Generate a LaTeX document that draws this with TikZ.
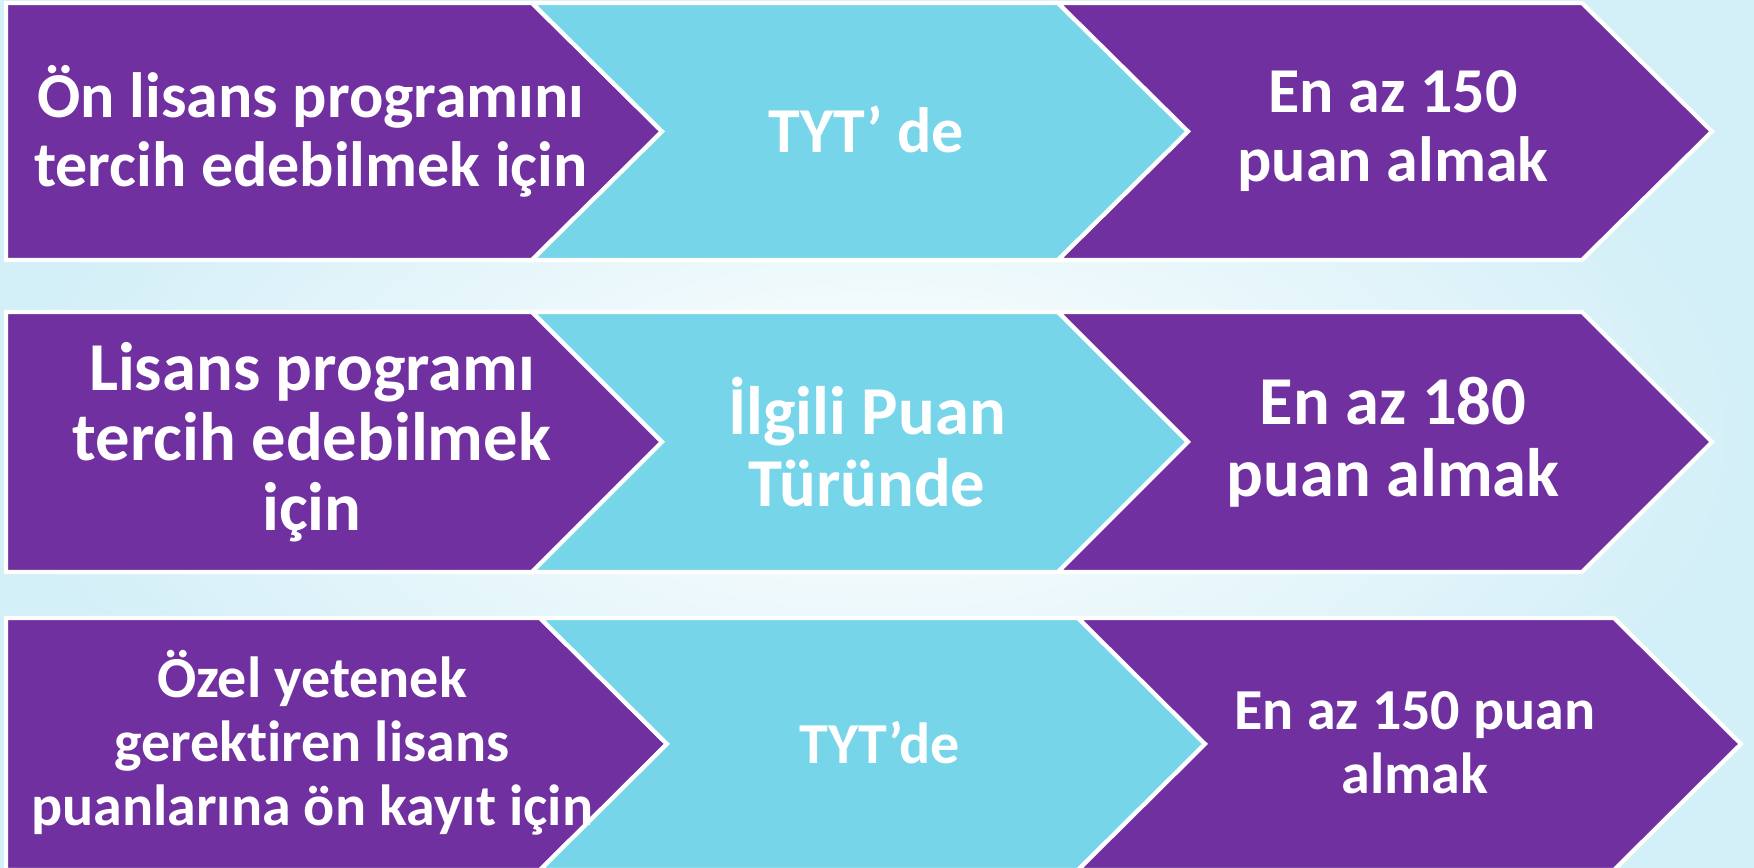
\documentclass[tikz,border=0pt]{standalone}
\usepackage{fontspec}
\setmainfont[Ligatures=NoCommon]{Carlito}
\definecolor{mor}{HTML}{7030A0}
\definecolor{turkuaz}{HTML}{77D5E9}
\definecolor{bgcyan}{HTML}{D3EFF7}

\begin{document}
\begin{tikzpicture}[x=0.01cm,y=-0.01cm,
  darkstyle/.style={fill=mor,draw=white,line width=1.2pt},
  lightstyle/.style={fill=turkuaz,draw=white,line width=1.2pt},
  textstyle/.style={text=white,align=center,font=\bfseries\fontsize{18.2}{19.7}\selectfont},
  bigtext/.style={textstyle,font=\bfseries\fontsize{19.5}{20.5}\selectfont},
  smalltext/.style={textstyle,font=\bfseries\fontsize{16.5}{18.2}\selectfont}]
 \useasboundingbox (0,0) rectangle (1754,868);
 \shade[inner color=white,outer color=bgcyan] (0,0) rectangle (1754,868);
 \foreach \t/\b/\a/\c/\e/\d in {3/260/532/1058/1582/130,312/572/532/1058/1582/130,618/870/540/1078/1614/127}
   {\pgfmathsetmacro{\m}{(\t+\b)/2}
    \draw[darkstyle] (6,\t) -- (\a,\t) -- (\a+\d,\m) -- (\a,\b) -- (6,\b) -- cycle;
    \draw[lightstyle] (\a,\t) -- (\c,\t) -- (\c+\d,\m) -- (\c,\b) -- (\a,\b) -- (\a+\d,\m) -- cycle;
    \draw[darkstyle] (\c,\t) -- (\e,\t) -- (\e+\d,\m) -- (\e,\b) -- (\c,\b) -- (\c+\d,\m) -- cycle;}

 \node[textstyle] (left1) at (311,131) {Ön lisans programını\\tercih edebilmek için};
 \node[textstyle] (mid1) at (866,129) {TYT’ de};
 \node[textstyle] (right1) at (1393,131) {En az 150\\puan almak};

 \node[bigtext,font=\bfseries\fontsize{19.5}{19.9}\selectfont] (left2) at (312,442) {Lisans programı\\tercih edebilmek\\için};
 \node[bigtext] (mid2) at (867,442) {İlgili Puan\\Türünde};
 \node[bigtext] (right2) at (1393,442) {En az 180\\puan almak};

 \node[smalltext] (left3) at (312,743) {Özel yetenek\\gerektiren lisans\\puanlarına ön kayıt için};
 \node[smalltext] (mid3) at (880,743) {TYT’de};
 \node[smalltext] (right3) at (1415,743) {En az 150 puan\\almak};
\end{tikzpicture}
\end{document}
